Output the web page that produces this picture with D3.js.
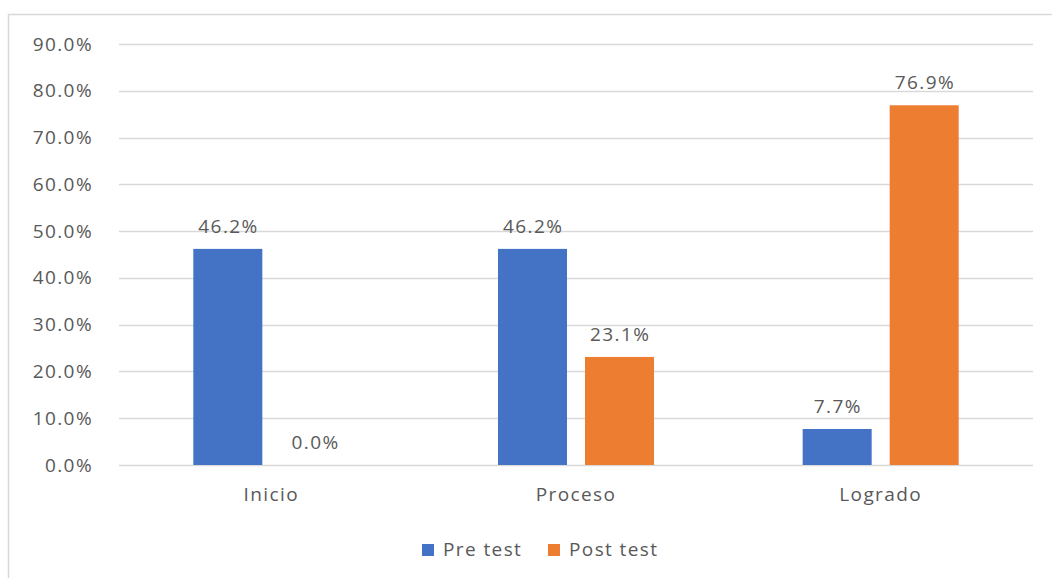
<!DOCTYPE html>
<html><head><meta charset="utf-8">
<script src="https://cdn.jsdelivr.net/npm/d3@7"></script>
<style>body{margin:0;background:#fff}svg{display:block}</style>
</head><body>
<svg id="c" width="1052" height="578"></svg>
<script>
const categories = ["Inicio", "Proceso", "Logrado"];
const seriesNames = ["Pre test", "Post test"];
const preTest = [46.2, 46.2, 7.7];
const postTest = [0.0, 23.1, 76.9];
const yTicks = [0, 10, 20, 30, 40, 50, 60, 70, 80, 90];
const colors = ["#4472C4", "#ED7D31"];

(function(){
const svg = d3.select("#c");
const font = "'Open Sans', 'Noto Sans', sans-serif";
const txt = "#595959";
const fs = 19, ls = 1.4;

svg.append("rect").attr("x", 8.5).attr("y", 14.5).attr("width", 1100).attr("height", 700)
  .attr("fill", "#fff").attr("stroke", "#d9d9d9").attr("stroke-width", 1.5);

const pL = 119, pR = 1033, pT = 44, pB = 465;
const x = d3.scaleBand().domain(categories).range([pL, pR]).paddingInner(0).paddingOuter(0);
const xs = d3.scaleBand().domain(seriesNames).range([0, x.bandwidth()]).paddingInner(0.207).paddingOuter(0.854);
const y = d3.scaleLinear().domain([0, 90]).range([pB, pT]);

const gg = svg.append("g");
yTicks.forEach(t => {
  gg.append("line").attr("x1", pL).attr("x2", pR).attr("y1", Math.round(y(t)) + 0.5).attr("y2", Math.round(y(t)) + 0.5)
    .attr("stroke", "#d9d9d9").attr("stroke-width", 1.3);
});

const yAxis = d3.axisLeft(y).tickValues(yTicks).tickFormat(d => d.toFixed(1) + "%").tickSize(0).tickPadding(26);
const ga = svg.append("g").attr("transform", `translate(${pL},0)`).call(yAxis);
ga.select(".domain").remove();
ga.selectAll("text").attr("font-family", font).attr("font-size", fs).attr("fill", txt).attr("letter-spacing", ls);

const data = categories.map((c, i) => ({c, vals: [preTest[i], postTest[i]]}));
const g = svg.append("g");
data.forEach(d => {
  d.vals.forEach((v, j) => {
    const bx = x(d.c) + xs(seriesNames[j]);
    g.append("rect").attr("x", bx).attr("y", y(v)).attr("width", xs.bandwidth()).attr("height", pB - y(v))
      .attr("fill", colors[j]);
    g.append("text").attr("x", bx + xs.bandwidth() / 2 + ls / 2).attr("y", y(v) - 16)
      .attr("text-anchor", "middle").attr("font-family", font).attr("font-size", fs).attr("fill", txt)
      .attr("letter-spacing", ls).text(v.toFixed(1) + "%");
  });
});

const xAxis = d3.axisBottom(x).tickSize(0).tickPadding(23);
const gx = svg.append("g").attr("transform", `translate(0,${pB})`).call(xAxis);
gx.select(".domain").remove();
gx.selectAll("text").attr("font-family", font).attr("font-size", fs).attr("fill", txt).attr("letter-spacing", ls);

const legX = [422, 548];
seriesNames.forEach((s, j) => {
  svg.append("rect").attr("x", legX[j]).attr("y", 544).attr("width", 12).attr("height", 12).attr("fill", colors[j]);
  svg.append("text").attr("x", legX[j] + 21).attr("y", 556).attr("font-family", font).attr("font-size", fs)
    .attr("fill", txt).attr("letter-spacing", ls).text(s);
});
})();
</script>
</body></html>
